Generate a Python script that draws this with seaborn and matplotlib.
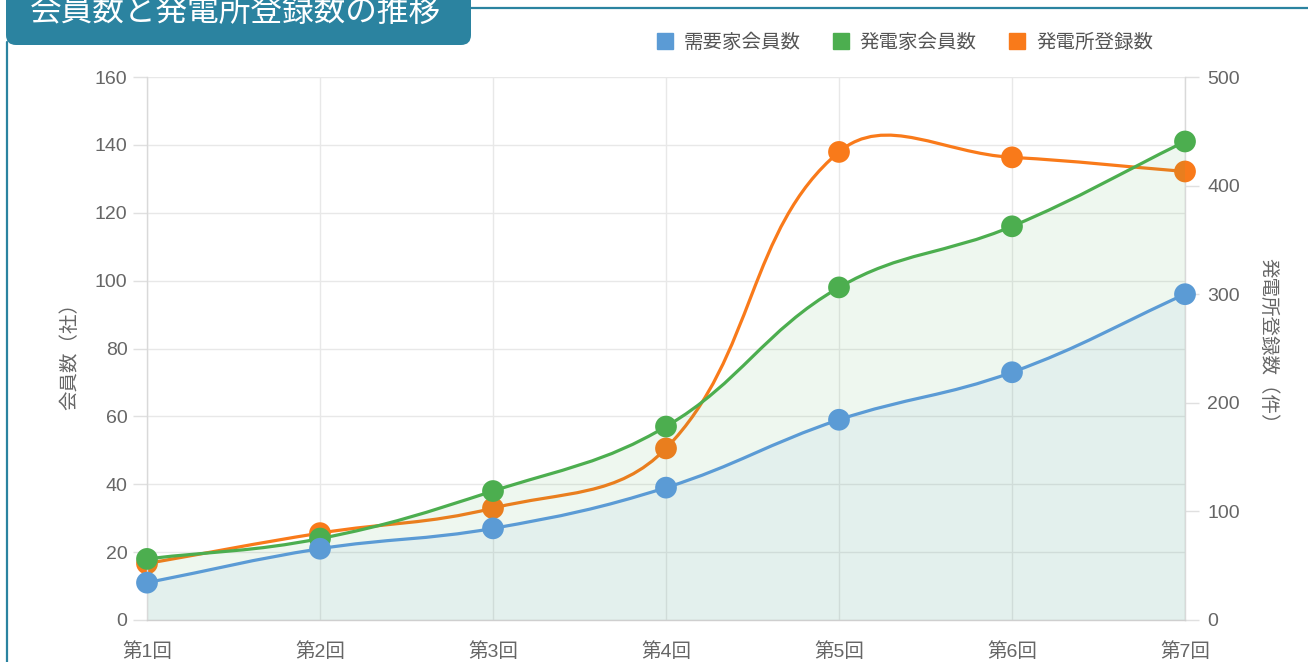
import numpy as np
import pandas as pd
import matplotlib
matplotlib.use("Agg")
import matplotlib.pyplot as plt
import seaborn as sns
from matplotlib.path import Path
from matplotlib.patches import PathPatch, FancyBboxPatch
from matplotlib.lines import Line2D
from matplotlib.transforms import IdentityTransform, blended_transform_factory

# Data
rounds = ['第1回', '第2回', '第3回', '第4回', '第5回', '第6回', '第7回']
demand_members = [11, 21, 27, 39, 59, 73, 96]
generator_members = [18, 24, 38, 57, 98, 116, 141]
plant_counts = [52, 80, 103, 158, 431, 426, 413]
series_labels = ['需要家会員数', '発電家会員数', '発電所登録数']

blue = '#5b9bd5'
green = '#4cae4f'
orange = '#f97a1a'
teal = '#2b83a0'

sns.set_theme(style='white')
plt.rcParams['font.family'] = ['Liberation Sans', 'Noto Sans CJK JP', 'DejaVu Sans']

fig = plt.figure(figsize=(13.08, 6.62), dpi=100)
ax = fig.add_axes([147 / 1308, 42 / 662, 1038 / 1308, 543 / 662])
ax2 = ax.twinx()
# member series (and their fills) sit above the plant-count line
ax.set_zorder(ax2.get_zorder() + 1)
ax.patch.set_visible(False)

pos = np.arange(len(rounds))
ax.set_xlim(0, len(rounds) - 1)
ax.set_ylim(0, 160)
ax2.set_ylim(0, 500)
left_ticks = np.arange(0, 161, 20)


def spline(axis, xs, ys, tension=0.4):
    # chart.js style cubic bezier through the points (computed in pixel space)
    pts = axis.transData.transform(np.column_stack([xs, ys]))
    n = len(pts)
    cp_prev, cp_next = [], []
    for i in range(n):
        p, m, a = pts[max(i - 1, 0)], pts[i], pts[min(i + 1, n - 1)]
        d01 = np.hypot(*(m - p))
        d12 = np.hypot(*(a - m))
        tot = d01 + d12
        s01 = d01 / tot if tot else 0
        s12 = d12 / tot if tot else 0
        cp_prev.append(m - tension * s01 * (a - p))
        cp_next.append(m + tension * s12 * (a - p))
    verts = [pts[0]]
    codes = [Path.MOVETO]
    for i in range(n - 1):
        verts += [cp_next[i], cp_prev[i + 1], pts[i + 1]]
        codes += [Path.CURVE4] * 3
    verts = axis.transData.inverted().transform(np.array(verts))
    return verts, codes


def draw_series(axis, ys, color, fill=None):
    verts, codes = spline(axis, pos, ys)
    if fill is not None:
        fv = np.vstack([verts, [[pos[-1], 0], [pos[0], 0], [pos[0], 0]]])
        fc = codes + [Path.LINETO, Path.LINETO, Path.CLOSEPOLY]
        axis.add_patch(PathPatch(Path(fv, fc), facecolor=fill, edgecolor='none', zorder=1))
    axis.add_patch(PathPatch(Path(verts, codes), facecolor='none', edgecolor=color,
                             lw=2.3, zorder=2, capstyle='round'))
    sns.scatterplot(x=pos, y=ys, ax=axis, color=color, s=245, edgecolor='none',
                    zorder=3, clip_on=False, legend=False)


# grid drawn on the lower axes so no line crosses over the data
grid_color = '#e8e8e8'
hline_tr = blended_transform_factory(ax2.transAxes, ax.transData)
for y in left_ticks:
    ax2.add_line(Line2D([0, 1], [y, y], transform=hline_tr, color=grid_color, lw=1, zorder=0))
for x in pos:
    ax2.axvline(x, color=grid_color, lw=1, zorder=0)

draw_series(ax2, plant_counts, orange)
draw_series(ax, generator_members, green, fill=(76 / 255, 175 / 255, 80 / 255, 0.09))
draw_series(ax, demand_members, blue, fill=(91 / 255, 155 / 255, 213 / 255, 0.07))

ax.set_xlim(0, len(rounds) - 1)
ax.set_ylim(0, 160)
ax2.set_ylim(0, 500)

# Axes styling
ax.set_xticks(pos)
ax.set_xticklabels(rounds)
ax.set_yticks(left_ticks)
ax2.set_yticks(np.arange(0, 501, 100))
ax.grid(False)
ax2.grid(False)
ax.tick_params(axis='both', length=10, width=1, color='#e0e0e0', labelcolor='#666666', labelsize=14)
ax.tick_params(axis='y', pad=4)
ax.tick_params(axis='x', pad=6)
ax2.tick_params(axis='y', length=10, width=1, color='#e0e0e0', labelcolor='#666666', labelsize=14, pad=6)
for s in ['top', 'right']:
    ax.spines[s].set_visible(False)
for s in ['top', 'left', 'bottom']:
    ax2.spines[s].set_visible(False)
ax.spines['left'].set_color('#d9d9d9')
ax.spines['bottom'].set_color('#cfcfcf')
ax2.spines['right'].set_color('#d9d9d9')
for sp in list(ax.spines.values()) + list(ax2.spines.values()):
    sp.set_linewidth(1)

ax.set_ylabel('会員数（社）', fontsize=14, color='#666666', va='center', ha='center')
ax.yaxis.set_label_coords(-0.074, 0.495)
ax2.set_ylabel('発電所登録数（件）', fontsize=14, color='#666666', rotation=270, va='center', ha='center')
ax2.yaxis.set_label_coords(1.080, 0.505)

# Legend
handles = [Line2D([], [], marker='s', linestyle='none', color=c, markersize=12)
           for c in [blue, green, orange]]
fig.legend(handles, series_labels, loc='center', bbox_to_anchor=(904 / 1308, 1 - 43 / 662),
           ncol=3, frameon=False, fontsize=14, handlelength=1.0, handletextpad=0.45,
           columnspacing=1.6, labelcolor='#555555')

# Title box and frame
fig.add_artist(FancyBboxPatch((6, 617), 465, 60, boxstyle='round,pad=0,rounding_size=10',
                              transform=IdentityTransform(), facecolor=teal, edgecolor='none'))
fig.add_artist(Line2D([7, 7], [0, 620], transform=IdentityTransform(), color=teal, lw=1.6))
fig.add_artist(Line2D([471, 1308], [654, 654], transform=IdentityTransform(), color=teal, lw=1.6))
fig.text(30 / 1308, 1 - 13 / 662, '会員数と発電所登録数の推移', color='white', fontsize=22.8,
         va='center', ha='left')

fig.savefig('out.png', dpi=100)
